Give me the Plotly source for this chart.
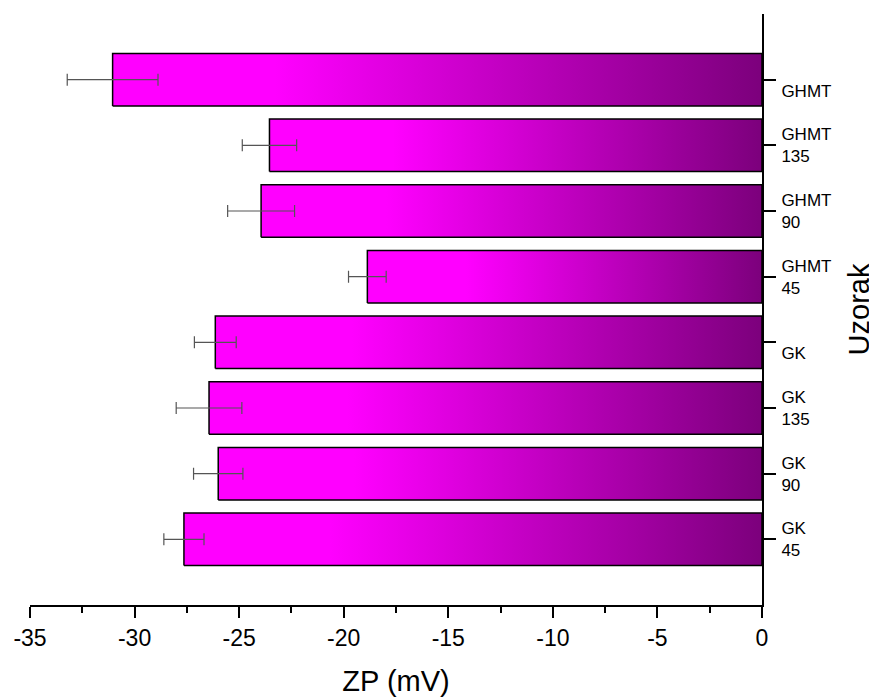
import plotly.graph_objects as go

# ---- data (bottom to top) ----
categories = ["GK 45", "GK 90", "GK 135", "GK", "GHMT 45", "GHMT 90", "GHMT 135", "GHMT"]
y_ticktext = ["GK<br>45", "GK<br>90", "GK<br>135", "&nbsp;<br>GK",
              "GHMT<br>45", "GHMT<br>90", "GHMT<br>135", "&nbsp;<br>GHMT"]
zp_values = [-27.64, -26.0, -26.44, -26.14, -18.87, -23.95, -23.55, -31.05]
zp_errors = [0.96, 1.18, 1.57, 1.0, 0.9, 1.6, 1.3, 2.17]
x_tickvals = [-35, -30, -25, -20, -15, -10, -5, 0]
x_ticktext = ["-35", "-30", "-25", "-20", "-15", "-10", "-5", "0"]

BAR_W = 0.8
FONT = "Liberation Sans, Arial, sans-serif"
grad = [[0.0, "#ff00ff"], [0.25, "#ff00ff"], [1.0, "#7c007c"]]

fig = go.Figure()
positions = list(range(len(categories)))

# gradient-filled bars (one polygon per bar, derived from the values)
for pos, v, name in zip(positions, zp_values, categories):
    lo, hi = pos - BAR_W / 2, pos + BAR_W / 2
    fig.add_trace(go.Scatter(
        x=[v, 0, 0, v, v], y=[lo, lo, hi, hi, lo],
        mode="lines", fill="toself", line=dict(width=1.5, color="black"),
        fillgradient=dict(type="horizontal", colorscale=grad, start=v, stop=0),
        name=name, hoverinfo="skip", showlegend=False))

# error bars at the bar ends
fig.add_trace(go.Scatter(
    x=zp_values, y=positions, mode="markers",
    marker=dict(size=1, color="rgba(0,0,0,0)"),
    error_x=dict(type="data", array=zp_errors, color="#555555", thickness=1.2, width=6),
    hovertext=categories, showlegend=False))

fig.update_layout(
    width=869, height=689,
    margin=dict(l=22, r=115, t=6, b=92),
    plot_bgcolor="white", paper_bgcolor="white",
    font=dict(family=FONT, color="black"),
    xaxis=dict(
        range=[-35, 0], tickvals=x_tickvals, ticktext=x_ticktext,
        showline=True, linecolor="black", linewidth=2, mirror=False,
        ticks="outside", ticklen=11, tickwidth=1.5, tickcolor="black",
        minor=dict(dtick=2.5, tick0=0, ticks="outside", ticklen=6, tickwidth=1.5, tickcolor="black", showgrid=False),
        showgrid=False, zeroline=False,
        tickfont=dict(size=23, family=FONT),
        title=dict(text="ZP (mV)", font=dict(size=29, family=FONT), standoff=21),
        automargin=False),
    yaxis=dict(
        range=[-1, 8], side="right", tickvals=positions, ticktext=y_ticktext,
        showline=True, linecolor="black", linewidth=2,
        ticks="outside", ticklen=12, tickwidth=1.5, tickcolor="black",
        showgrid=False, zeroline=False,
        tickfont=dict(size=17, family=FONT),
        ticklabelstandoff=2,
        title=dict(text="Uzorak", font=dict(size=29, family=FONT), standoff=18),
        automargin=False),
)

fig.write_html("out.html")
